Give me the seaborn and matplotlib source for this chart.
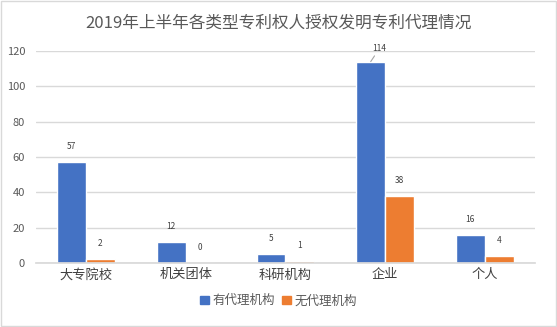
import matplotlib
matplotlib.use("Agg")
import matplotlib.pyplot as plt
import seaborn as sns
import pandas as pd
from matplotlib.patches import Rectangle

categories = ["大专院校", "机关团体", "科研机构", "企业", "个人"]
with_agent = [57, 12, 5, 114, 16]
without_agent = [2, 0, 1, 38, 4]
series_names = ["有代理机构", "无代理机构"]
colors = ["#4472C4", "#ED7D31"]

df = pd.DataFrame({
    "cat": categories * 2,
    "val": with_agent + without_agent,
    "series": [series_names[0]] * 5 + [series_names[1]] * 5,
})

sns.set_theme(style="white")
plt.rcParams['font.family'] = ['Noto Sans CJK SC', 'DejaVu Sans']

fig = plt.figure(figsize=(5.57, 3.27), dpi=100)
ax = fig.add_axes([0.065, 0.196, 0.895, 0.648])
sns.barplot(data=df, x="cat", y="val", hue="series", palette=colors,
            width=0.58, saturation=1, ax=ax, legend=False)

ax.set_ylim(0, 120)
ax.set_yticks(range(0, 121, 20))
ax.yaxis.grid(True, color="#D9D9D9", linewidth=1)
ax.set_axisbelow(True)
for s in ["top", "right", "left"]:
    ax.spines[s].set_visible(False)
ax.spines["bottom"].set_color("#D9D9D9")
ax.tick_params(axis="y", length=0, labelsize=8, colors="#595959", pad=8)
ax.tick_params(axis="x", length=0, labelsize=9.5, colors="#404040", pad=4)
ax.set_xlabel("")
ax.set_ylabel("")

# data labels
for ci, cont in enumerate(ax.containers):
    for bar, v in zip(cont, [with_agent, without_agent][ci]):
        x = bar.get_x() + bar.get_width() / 2
        if v == 114:
            ax.annotate(str(v), xy=(x, v), xytext=(9, 9), textcoords="offset pixels",
                        ha="center", va="bottom", fontsize=6, color="#404040",
                        arrowprops=dict(arrowstyle="-", color="#A6A6A6", lw=0.8,
                                        shrinkA=0, shrinkB=0))
        else:
            ax.annotate(str(v), xy=(x, v), xytext=(0, 8), textcoords="offset points",
                        ha="center", va="bottom", fontsize=6, color="#404040")

fig.suptitle("2019年上半年各类型专利权人授权发明专利代理情况", y=0.955,
             fontsize=12, color="#595959")

handles = [Rectangle((0, 0), 1, 1, color=c) for c in colors]
fig.legend(handles, series_names, loc="center", bbox_to_anchor=(0.5, 0.08),
           ncol=2, frameon=False, fontsize=9, handlelength=0.7, handleheight=0.7,
           handletextpad=0.3, columnspacing=0.6, labelcolor="#595959")

fig.patches.append(Rectangle((0.001, 0.002), 0.997, 0.995, transform=fig.transFigure,
                             fill=False, edgecolor="#D9D9D9", linewidth=1))

fig.savefig("out.png", dpi=100)
